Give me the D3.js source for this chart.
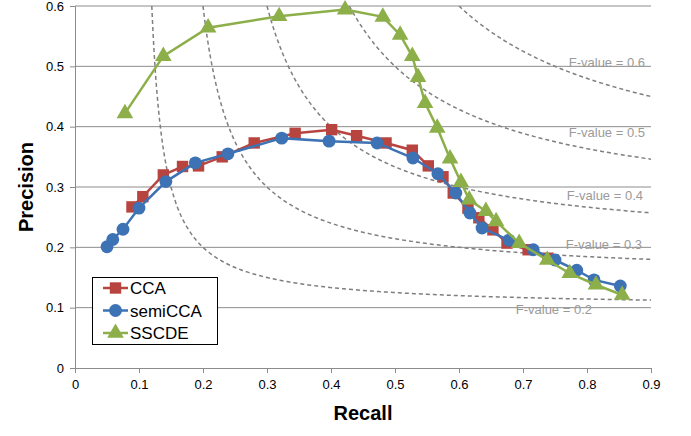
<!DOCTYPE html>
<html>
<head>
<meta charset="utf-8">
<script src="https://cdn.jsdelivr.net/npm/d3@7"></script>
<style>
  body { margin: 0; background: #fff; }
  svg { font-family: "Liberation Sans", Arial, sans-serif; }
</style>
</head>
<body>
<svg id="chart"></svg>
<script>
const width = 691, height = 436;

// data
const ccaRecall = [0.089, 0.106, 0.138, 0.168, 0.193, 0.230, 0.280, 0.344, 0.401, 0.440, 0.486, 0.527, 0.552, 0.575, 0.591, 0.614, 0.631, 0.653, 0.675, 0.708, 0.739];
const ccaPrecision = [0.267, 0.284, 0.320, 0.334, 0.335, 0.350, 0.373, 0.389, 0.395, 0.385, 0.373, 0.361, 0.335, 0.317, 0.290, 0.265, 0.249, 0.229, 0.207, 0.196, 0.182];
const semiRecall = [0.050, 0.059, 0.075, 0.100, 0.142, 0.188, 0.239, 0.323, 0.397, 0.472, 0.528, 0.567, 0.595, 0.617, 0.636, 0.678, 0.716, 0.750, 0.784, 0.811, 0.852];
const semiPrecision = [0.201, 0.213, 0.230, 0.265, 0.309, 0.340, 0.355, 0.381, 0.376, 0.373, 0.348, 0.322, 0.290, 0.257, 0.232, 0.212, 0.196, 0.179, 0.162, 0.146, 0.136];
const sscdeRecall = [0.078, 0.138, 0.208, 0.319, 0.422, 0.481, 0.508, 0.527, 0.536, 0.547, 0.566, 0.586, 0.603, 0.616, 0.642, 0.658, 0.694, 0.738, 0.773, 0.814, 0.855];
const sscdePrecision = [0.422, 0.517, 0.564, 0.583, 0.594, 0.582, 0.552, 0.517, 0.482, 0.439, 0.398, 0.347, 0.308, 0.279, 0.260, 0.243, 0.207, 0.179, 0.157, 0.138, 0.121];
const fValues = [0.2, 0.3, 0.4, 0.5, 0.6];
const xTicks = [0, 0.1, 0.2, 0.3, 0.4, 0.5, 0.6, 0.7, 0.8, 0.9];
const yTicks = [0, 0.1, 0.2, 0.3, 0.4, 0.5, 0.6];

const series = [
  { name: 'CCA', r: ccaRecall, p: ccaPrecision, color: '#B8443F', symbol: d3.symbolSquare, size: 130 },
  { name: 'semiCCA', r: semiRecall, p: semiPrecision, color: '#3D72B4', symbol: d3.symbolCircle, size: 130 },
  { name: 'SSCDE', r: sscdeRecall, p: sscdePrecision, color: '#8DAF4A', symbol: d3.symbolTriangle, size: 120 }
];

const svg = d3.select('#chart').attr('width', width).attr('height', height);
const x = d3.scaleLinear().domain([0, 0.9]).range([75, 651]);
const y = d3.scaleLinear().domain([0, 0.6]).range([368, 6]);

// gridlines
svg.append('g').selectAll('line').data(yTicks.slice(1)).enter().append('line')
  .attr('x1', x(0)).attr('x2', x(0.9))
  .attr('y1', d => y(d)).attr('y2', d => y(d))
  .attr('stroke', '#8c8c8c').attr('stroke-width', 1);

// axes
const xAxis = svg.append('g').attr('transform', `translate(0,${y(0)})`)
  .call(d3.axisBottom(x).tickValues(xTicks).tickSize(5).tickPadding(7).tickFormat(d => d === 0 ? '0' : d3.format('.1f')(d)));
const yAxis = svg.append('g').attr('transform', `translate(${x(0)},0)`)
  .call(d3.axisLeft(y).tickValues(yTicks).tickSize(5).tickPadding(6).tickFormat(d => d === 0 ? '0' : d3.format('.1f')(d)));
[xAxis, yAxis].forEach(a => {
  a.select('.domain').attr('stroke', '#8c8c8c');
  a.selectAll('.tick line').attr('stroke', '#8c8c8c');
  a.selectAll('.tick text').attr('font-size', 13).attr('fill', '#000')
    .attr('font-family', '"Liberation Sans", Arial, sans-serif');
});

// iso F-value curves
svg.append('clipPath').attr('id', 'plotclip').append('rect')
  .attr('x', x(0)).attr('y', y(0.6)).attr('width', x(0.9) - x(0)).attr('height', y(0) - y(0.6));
const fLine = d3.line().x(d => x(d[0])).y(d => y(d[1]));
const fg = svg.append('g').attr('clip-path', 'url(#plotclip)');
fValues.forEach(f => {
  const r0 = f * 0.6 / (1.2 - f);
  const pts = d3.range(0, 201).map(i => {
    const r = r0 + (0.9 - r0) * Math.pow(i / 200, 1.6);
    return [r, f * r / (2 * r - f)];
  });
  fg.append('path').attr('d', fLine(pts)).attr('fill', 'none')
    .attr('stroke', '#7f7f7f').attr('stroke-width', 1.5).attr('stroke-dasharray', '4,3');
});

const fLabels = [
  { f: 0.6, x: 645, y: 62 },
  { f: 0.5, x: 645, y: 132 },
  { f: 0.4, x: 643, y: 195 },
  { f: 0.3, x: 642, y: 244 },
  { f: 0.2, x: 592, y: 309 }
];
svg.append('g').selectAll('text').data(fLabels).enter().append('text')
  .attr('x', d => d.x).attr('y', d => d.y).attr('dy', '0.35em')
  .attr('text-anchor', 'end').attr('font-size', 13).attr('fill', '#9a9a9a')
  .text(d => `F-value = ${d.f}`);

// series
const line = d3.line().x(d => x(d[0])).y(d => y(d[1]));
series.forEach(s => {
  const pts = s.r.map((r, i) => [r, s.p[i]]);
  const g = svg.append('g');
  g.append('path').attr('d', line(pts)).attr('fill', 'none')
    .attr('stroke', s.color).attr('stroke-width', 2.5);
  g.selectAll('path.m').data(pts).enter().append('path').attr('class', 'm')
    .attr('transform', d => `translate(${x(d[0])},${y(d[1])})`)
    .attr('d', d3.symbol().type(s.symbol).size(s.size)())
    .attr('fill', s.color);
});

// legend
const legend = svg.append('g');
legend.append('rect').attr('x', 92.5).attr('y', 277.5).attr('width', 125).attr('height', 67)
  .attr('fill', '#fff').attr('stroke', '#000').attr('stroke-width', 1);
series.forEach((s, i) => {
  const ly = 288 + i * 22.5;
  legend.append('line').attr('x1', 103).attr('x2', 128).attr('y1', ly).attr('y2', ly)
    .attr('stroke', s.color).attr('stroke-width', 2.5);
  legend.append('path').attr('transform', `translate(115.5,${ly})`)
    .attr('d', d3.symbol().type(s.symbol).size(s.size)()).attr('fill', s.color);
  legend.append('text').attr('x', 130).attr('y', ly).attr('dy', '0.36em')
    .attr('font-size', 17).attr('fill', '#000').text(s.name);
});

// axis titles
svg.append('text').attr('x', 363).attr('y', 420).attr('text-anchor', 'middle')
  .attr('font-size', 20).attr('font-weight', 'bold').text('Recall');
svg.append('text').attr('transform', `translate(33,${(y(0) + y(0.6)) / 2}) rotate(-90)`)
  .attr('text-anchor', 'middle').attr('font-size', 20).attr('font-weight', 'bold').text('Precision');
</script>
</body>
</html>
